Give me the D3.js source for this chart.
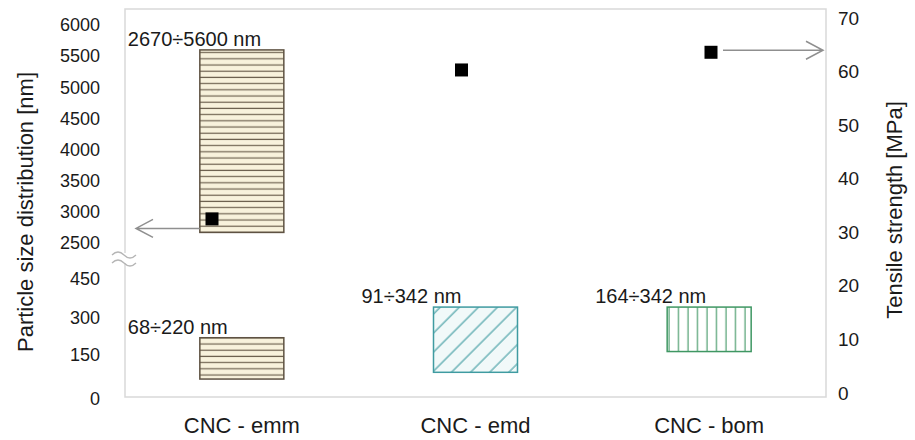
<!DOCTYPE html>
<html>
<head>
<meta charset="utf-8">
<title>CNC particle size and tensile strength</title>
<script src="https://d3js.org/d3.v7.min.js"></script>
<style>
  body { margin: 0; background: #fff; }
  svg { font-family: "Liberation Sans", Arial, sans-serif; }
</style>
</head>
<body>
<script>
  // Data
  var categories = ["CNC - emm", "CNC - emd", "CNC - bom"];
  var sizeMin = [68, 91, 164];        // nm, lower range
  var sizeMax = [220, 342, 342];
  var bigMin = 2670, bigMax = 5600;   // CNC - emm, upper range
  var tensile = [32.5, 60.3, 63.6];   // MPa
  var lowTicks = [0, 150, 300, 450];
  var highTicks = [2500, 3000, 3500, 4000, 4500, 5000, 5500, 6000];
  var rightTicks = [0, 10, 20, 30, 40, 50, 60, 70];
  var patterns = ["hstripe", "diag", "vstripe"];
  var colors = ["#5e5242", "#3f9ba1", "#3f9763"];

  // Consts
  var width = 915, height = 440;
  var plot = {left: 125, right: 826, top: 9, bottom: 397};
  var barW = 84;

  var svg = d3.select("body").append("svg")
      .attr("width", width)
      .attr("height", height);

  // Patterns
  var defs = svg.append("defs");
  var p1 = defs.append("pattern").attr("id", "hstripe")
      .attr("patternUnits", "userSpaceOnUse").attr("width", 10).attr("height", 6.2);
  p1.append("rect").attr("width", 10).attr("height", 6.2).attr("fill", "#f8f2dc");
  p1.append("line").attr("x1", 0).attr("x2", 10).attr("y1", 3).attr("y2", 3)
      .attr("stroke", "#6e6250").attr("stroke-width", 1.2);

  var p2 = defs.append("pattern").attr("id", "diag")
      .attr("patternUnits", "userSpaceOnUse").attr("width", 13.5).attr("height", 13.5)
      .attr("patternTransform", "rotate(45)");
  p2.append("rect").attr("width", 13.5).attr("height", 13.5).attr("fill", "#f1f9f9");
  p2.append("line").attr("x1", 2).attr("x2", 2).attr("y1", 0).attr("y2", 13.5)
      .attr("stroke", "#3f9ba1").attr("stroke-width", 1.1);

  var p3 = defs.append("pattern").attr("id", "vstripe")
      .attr("patternUnits", "userSpaceOnUse").attr("width", 9.5).attr("height", 10);
  p3.append("rect").attr("width", 9.5).attr("height", 10).attr("fill", "#fff");
  p3.append("line").attr("x1", 4).attr("x2", 4).attr("y1", 0).attr("y2", 10)
      .attr("stroke", "#3f9763").attr("stroke-width", 1.1);

  // Scales
  var x = d3.scaleBand().domain(categories).range([plot.left, plot.right]);
  var xm = d3.scalePoint().domain(categories).range([212, 711]);
  var yLow = d3.scaleLinear().domain(lowTicks).range([399, 355, 318, 279]);
  var yHigh = d3.scaleLinear().domain([2500, 6000]).range([243, 25]);
  var yT = d3.scaleLinear().domain([0, 70]).range([393, 18]);
  var cx = function(c) { return x(c) + x.bandwidth() / 2; };

  // Frame
  svg.append("rect")
      .attr("x", plot.left).attr("y", plot.top)
      .attr("width", plot.right - plot.left).attr("height", plot.bottom - plot.top)
      .attr("fill", "none").attr("stroke", "#d9d9d9").attr("stroke-width", 1.5);

  // Axis break
  svg.append("rect").attr("x", 118).attr("y", 253).attr("width", 14).attr("height", 10).attr("fill", "#fff");
  [255, 263].forEach(function(yy) {
    svg.append("path")
        .attr("d", "M112," + yy + " q6,-6 12,0 t12,0")
        .attr("fill", "none").attr("stroke", "#b5b5b5").attr("stroke-width", 1.3);
  });

  // Axes
  function styleAxis(g, size) {
    g.select(".domain").remove();
    g.attr("font-size", size).attr("font-family", null);
    g.selectAll("text").attr("fill", "#1a1a1a");
  }
  var fmt = d3.format("d");
  svg.append("g").attr("transform", "translate(" + plot.left + ",0)")
      .call(d3.axisLeft(yLow).tickValues(lowTicks).tickFormat(fmt).tickSize(0).tickPadding(25))
      .call(styleAxis, 18);
  svg.append("g").attr("transform", "translate(" + plot.left + ",0)")
      .call(d3.axisLeft(yHigh).tickValues(highTicks).tickFormat(fmt).tickSize(0).tickPadding(25))
      .call(styleAxis, 18);
  svg.append("g").attr("transform", "translate(" + plot.right + ",0)")
      .call(d3.axisRight(yT).tickValues(rightTicks).tickFormat(fmt).tickSize(0).tickPadding(12))
      .call(styleAxis, 19);

  // Category labels
  svg.selectAll(".cat").data(categories).enter().append("text")
      .attr("x", cx).attr("y", 433)
      .attr("text-anchor", "middle").attr("font-size", 22).attr("fill", "#1a1a1a")
      .text(function(d) { return d; });

  // Axis titles
  svg.append("text").attr("transform", "translate(33,212) rotate(-90)")
      .attr("text-anchor", "middle").attr("font-size", 22).attr("fill", "#1a1a1a")
      .text("Particle size distribution [nm]");
  svg.append("text").attr("transform", "translate(902,210) rotate(-90)")
      .attr("text-anchor", "middle").attr("font-size", 22).attr("fill", "#1a1a1a")
      .text("Tensile strength [MPa]");

  // Lower range bars
  svg.selectAll(".bar").data(categories).enter().append("rect")
      .attr("x", function(d) { return cx(d) - barW / 2; })
      .attr("y", function(d, i) { return yLow(sizeMax[i]); })
      .attr("width", barW)
      .attr("height", function(d, i) { return yLow(sizeMin[i]) - yLow(sizeMax[i]); })
      .attr("fill", function(d, i) { return "url(#" + patterns[i] + ")"; })
      .attr("stroke", function(d, i) { return colors[i]; })
      .attr("stroke-width", 1.5);

  svg.selectAll(".rlab").data(categories).enter().append("text")
      .attr("x", function(d) { return cx(d) - barW / 2 - 72; })
      .attr("y", function(d, i) { return yLow(sizeMax[i]) - 4; })
      .attr("font-size", 20).attr("fill", "#1a1a1a")
      .text(function(d, i) { return sizeMin[i] + "\u00f7" + sizeMax[i] + " nm"; });

  // Upper range bar (CNC - emm)
  var c0 = categories[0];
  svg.append("rect")
      .attr("x", cx(c0) - barW / 2).attr("y", yHigh(bigMax))
      .attr("width", barW).attr("height", yHigh(bigMin) - yHigh(bigMax))
      .attr("fill", "url(#hstripe)").attr("stroke", colors[0]).attr("stroke-width", 1.5);
  svg.append("text")
      .attr("x", cx(c0) - barW / 2 - 72).attr("y", yHigh(bigMax) - 4)
      .attr("font-size", 20).attr("fill", "#1a1a1a")
      .text(bigMin + "\u00f7" + bigMax + " nm");

  // Tensile strength markers
  svg.selectAll(".pt").data(categories).enter().append("rect")
      .attr("x", function(d) { return xm(d) - 6.5; })
      .attr("y", function(d, i) { return yT(tensile[i]) - 6.5; })
      .attr("width", 13).attr("height", 13)
      .attr("fill", "#000");

  // Axis arrows
  var ay = yHigh(bigMin) - 4;
  var tipL = plot.left + 11;
  svg.append("path")
      .attr("d", "M" + (cx(c0) - barW / 2) + "," + ay + "H" + tipL +
                 "M" + (tipL + 17) + "," + (ay - 9) + "L" + tipL + "," + ay + "L" + (tipL + 17) + "," + (ay + 9))
      .attr("fill", "none").attr("stroke", "#8f8f8f").attr("stroke-width", 1.5);

  var by = yT(tensile[2]) - 2;
  var tipR = plot.right - 3;
  svg.append("path")
      .attr("d", "M" + (xm(categories[2]) + 12) + "," + by + "H" + tipR +
                 "M" + (tipR - 17) + "," + (by - 9) + "L" + tipR + "," + by + "L" + (tipR - 17) + "," + (by + 9))
      .attr("fill", "none").attr("stroke", "#8f8f8f").attr("stroke-width", 1.5);
</script>
</body>
</html>
